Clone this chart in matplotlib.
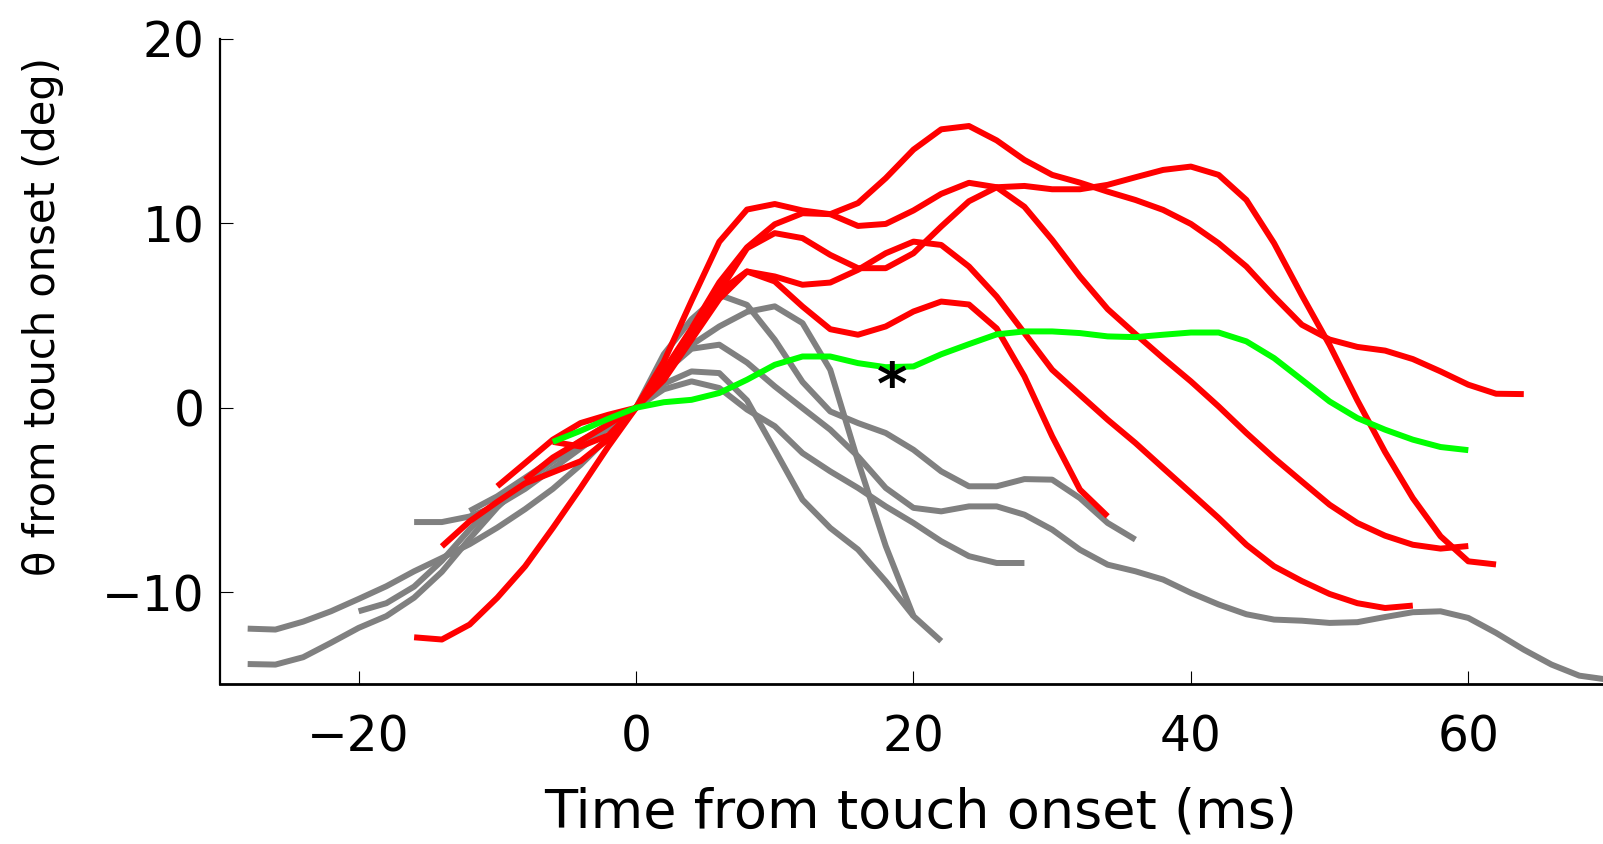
import numpy as np
import matplotlib.pyplot as plt

# traces sampled every 2 ms; each trace = start time (ms) + theta values (deg)
STEP = 2

# non-touch / control traces (gray)
gray1_t0 = -28
gray1 = [-11.98, -12.03, -11.6, -11.04, -10.37, -9.68, -8.87, -8.15, -7.4, -6.5, -5.5, -4.4, -3.1, -1.6,
         0, 2.9, 4.8, 6.12, 5.58, 3.69, 1.4, -0.2, -0.83, -1.37, -2.28, -3.45, -4.26, -4.26, -3.87, -3.9,
         -4.9, -6.25, -7.15]
gray2_t0 = -28
gray2 = [-13.9, -13.93, -13.53, -12.75, -11.94, -11.3, -10.3, -8.9, -7.1, -5.4, -4.0, -2.9, -1.9, -0.9,
         0, 1.9, 3.2, 3.42, 2.45, 1.16, -0.02, -1.19, -2.64, -4.35, -5.43, -5.62, -5.35, -5.35, -5.8,
         -6.61, -7.7, -8.51, -8.87, -9.32, -10.04, -10.67, -11.2, -11.49, -11.55, -11.67, -11.63, -11.35,
         -11.09, -11.04, -11.4, -12.21, -13.12, -13.93, -14.53, -14.74]
gray3_t0 = -20
gray3 = [-11.04, -10.6, -9.7, -8.3, -6.6, -5.2, -4.0, -2.9, -1.9, -0.9,
         0, 1.8, 3.41, 4.41, 5.2, 5.5, 4.59, 2.06, -2.9, -7.5, -11.3, -12.66]
gray4_t0 = -16
gray4 = [-6.2, -6.2, -5.9, -5.3, -4.4, -3.3, -2.2, -1.1,
         0, 1.3, 1.97, 1.88, 0.4, -2.28, -4.99, -6.52, -7.69, -9.41, -11.3]
gray5_t0 = -12
gray5 = [-5.6, -4.8, -3.8, -2.8, -1.8, -0.9,
         0, 1.0, 1.43, 1.07, -0.1, -1.0, -2.46, -3.45, -4.35, -5.35, -6.25, -7.24, -8.05, -8.42, -8.42]

# touch traces (red)
red1_t0 = -16
red1 = [-12.45, -12.57, -11.76, -10.3, -8.6, -6.52, -4.35, -2.1,
        0, 2.5, 5.8, 9.0, 10.75, 11.05, 10.7, 10.5, 11.1, 12.45, 14.0, 15.1, 15.28, 14.5, 13.44, 12.63,
        12.21, 11.72, 11.27, 10.73, 9.97, 8.92, 7.66, 6.03, 4.5, 3.7, 3.3, 3.1, 2.64, 1.97, 1.25, 0.76, 0.74]
red2_t0 = -14
red2 = [-7.52, -6.16, -5.1, -4.1, -3.5, -2.9, -1.7,
        0, 2.0, 4.3, 6.8, 8.7, 9.95, 10.55, 10.5, 9.86, 9.97, 10.7, 11.6, 12.2, 11.96, 10.9, 9.1, 7.12,
        5.35, 4.0, 2.69, 1.43, 0.07, -1.37, -2.73, -4.0, -5.26, -6.25, -6.94, -7.43, -7.64, -7.5]
red3_t0 = -10
red3 = [-4.26, -3.0, -1.73, -0.83, -0.38,
        0, 1.8, 4.0, 6.3, 8.65, 9.47, 9.2, 8.29, 7.57, 7.57, 8.38, 9.83, 11.2, 11.96, 12.03, 11.85,
        11.85, 12.09, 12.5, 12.9, 13.08, 12.63, 11.27, 8.92, 6.1, 3.4, 0.4, -2.4, -4.9, -6.97, -8.33, -8.5]
red4_t0 = -6
red4 = [-1.85, -2.1, -1.5,
        0, 1.7, 4.0, 6.3, 7.39, 7.12, 6.67, 6.79, 7.48, 8.38, 9.01, 8.83, 7.66, 6.03, 4.05, 2.06, 0.7,
        -0.65, -1.91, -3.27, -4.62, -5.98, -7.43, -8.6, -9.4, -10.1, -10.6, -10.86, -10.73]
red5_t0 = -8
red5 = [-3.9, -2.7, -1.8, -0.9,
        0, 1.5, 3.7, 5.9, 7.39, 6.85, 5.49, 4.26, 3.96, 4.41, 5.22, 5.76, 5.6, 4.3, 1.7, -1.55, -4.44, -5.89]

# highlighted trace (green)
green_t0 = -6
green = [-1.85, -1.25, -0.6,
         0, 0.3, 0.43, 0.8, 1.52, 2.33, 2.78, 2.78, 2.42, 2.2, 2.24, 2.9, 3.45, 3.98, 4.14, 4.14, 4.05,
         3.87, 3.83, 3.96, 4.08, 4.08, 3.6, 2.69, 1.52, 0.34, -0.56, -1.19, -1.73, -2.13, -2.3]

star_t, star_theta = 18.45, 2.06

gray_traces = [(gray1_t0, gray1), (gray2_t0, gray2), (gray3_t0, gray3), (gray4_t0, gray4), (gray5_t0, gray5)]
red_traces = [(red1_t0, red1), (red2_t0, red2), (red3_t0, red3), (red4_t0, red4), (red5_t0, red5)]


def sample_times(t0, vals):
    return t0 + STEP * np.arange(len(vals))


fig = plt.figure(figsize=(16.03, 8.44), dpi=100)
ax = fig.add_axes([0.1372, 0.1892, 0.8653, 0.7646])

lw = 4.3
for t0, vals in gray_traces:
    ax.plot(sample_times(t0, vals), vals, color='#808080', lw=lw, solid_capstyle='butt')
for t0, vals in red_traces:
    ax.plot(sample_times(t0, vals), vals, color='#ff0000', lw=lw, solid_capstyle='butt')
ax.plot(sample_times(green_t0, green), green, color='#00ff00', lw=lw, solid_capstyle='butt')

ax.annotate('*', xy=(star_t, star_theta), xytext=(0, -25), textcoords='offset points',
            ha='center', va='baseline', fontsize=42, fontweight='bold', color='black')

ax.set_xlim(-30, 70)
ax.set_ylim(-15, 20)
ax.set_xticks([-20, 0, 20, 40, 60])
ax.set_yticks([-10, 0, 10, 20])
ax.spines['top'].set_visible(False)
ax.spines['right'].set_visible(False)
ax.spines['left'].set_linewidth(1.6)
ax.spines['bottom'].set_linewidth(2.0)
ax.tick_params(direction='in', length=9.4, width=0.8, labelsize=35)
ax.tick_params(axis='x', pad=21)
ax.tick_params(axis='y', pad=11)

fig.text(900 / 1568, 1 - 795 / 826, 'Time from touch onset (ms)', fontsize=39,
         ha='center', va='center')
fig.text(43 / 1603, 1 - 317 / 844, 'θ from touch onset (deg)', fontsize=30,
         rotation=90, ha='center', va='center')

fig.savefig('out.png', dpi=100)
